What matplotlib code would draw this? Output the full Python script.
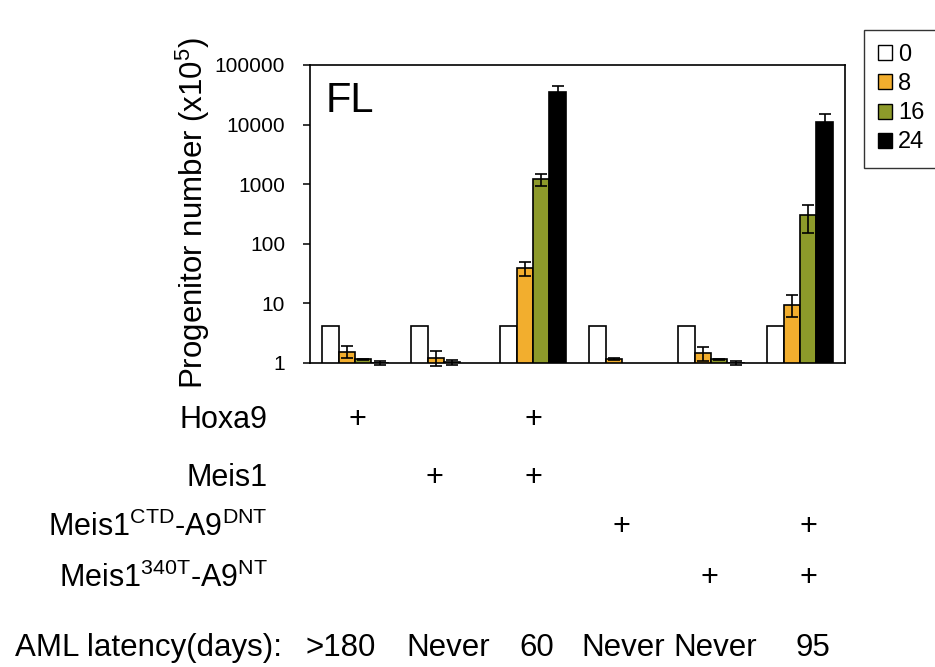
import numpy as np
import matplotlib
matplotlib.use('Agg')
import matplotlib.pyplot as plt
from matplotlib.patches import Patch
from matplotlib.transforms import blended_transform_factory, offset_copy

plt.rcParams['font.family'] = ['Liberation Sans', 'DejaVu Sans']
plt.rcParams['mathtext.fontset'] = 'custom'
plt.rcParams['mathtext.rm'] = 'Liberation Sans'
plt.rcParams['mathtext.it'] = 'Liberation Sans'

# data (progenitor number, x10^5)
days = ['0', '8', '16', '24']
colours = ['white', '#f2ae2e', '#8d9a2a', 'black']

v0 = [4.1, 4.1, 4.1, 4.1, 4.1, 4.1]
v8 = [1.55, 1.2, 40, 1.15, 1.5, 9.5]
v16 = [1.15, 1.02, 1200, np.nan, 1.15, 310]
v24 = [1.0, np.nan, 35000, np.nan, 1.0, 11000]

# error bar limits (lower, upper)
lo8 = [1.2, 0.9, 29, 1.12, 1.1, 6.0]
hi8 = [1.95, 1.6, 50, 1.2, 1.85, 14]
lo16 = [1.12, 0.92, 920, np.nan, 1.12, 150]
hi16 = [1.18, 1.12, 1500, np.nan, 1.18, 440]
lo24 = [0.93, np.nan, 28000, np.nan, 0.93, 8000]
hi24 = [1.08, np.nan, 45000, np.nan, 1.08, 15000]

rows = ['Hoxa9', 'Meis1', r'Meis1$^{\mathrm{CTD}}$-A9$^{\mathrm{DNT}}$',
        r'Meis1$^{\mathrm{340T}}$-A9$^{\mathrm{NT}}$']
plus = [[1, 0, 1, 0, 0, 0],
        [0, 1, 1, 0, 0, 0],
        [0, 0, 0, 1, 0, 1],
        [0, 0, 0, 0, 1, 1]]
latency = ['>180', 'Never', '60', 'Never', 'Never', '95']

fig = plt.figure(figsize=(9.35, 6.67), dpi=100)
ax = fig.add_axes([310/935, (667-363)/667, 535/935, 298/667])

x = np.arange(6)
w = 0.185
vals = [v0, v8, v16, v24]
los = [None, lo8, lo16, lo24]
his = [None, hi8, hi16, hi24]
for i in range(4):
    xs = x + (i - 1.5) * w
    v = np.array(vals[i], dtype=float)
    ax.bar(xs, v, w, color=colours[i], edgecolor='black', linewidth=1.2)
    if los[i] is not None:
        err = np.array([v - np.array(los[i]), np.array(his[i]) - v])
        eb = ax.errorbar(xs, v, yerr=err, fmt='none', ecolor='black',
                         elinewidth=1.2, capsize=4.5, capthick=1.2)
        for art in eb.lines[1] + eb.lines[2]:
            art.set_clip_on(False)

ax.set_yscale('log')
ax.set_ylim(1, 100000)
ax.set_xlim(-0.506, 5.506)
ax.set_yticks([1, 10, 100, 1000, 10000, 100000])
ax.set_yticklabels(['1', '10', '100', '1000', '10000', '100000'])
ax.minorticks_off()
ax.set_xticks([])
ax.tick_params(axis='y', labelsize=15, length=5, width=1.1, pad=13)
for s in ax.spines.values():
    s.set_linewidth(1.2)
ax.set_ylabel(r'Progenitor number (x10$^5$)', fontsize=22.5)
ax.yaxis.set_label_coords(-0.183, 0.505)
ax.text(0.03, 0.945, 'FL', transform=ax.transAxes, fontsize=30,
        ha='left', va='top')

handles = [Patch(facecolor=c, edgecolor='black', linewidth=1.0) for c in colours]
fig.legend(handles, days, loc='upper left', bbox_to_anchor=(864/935, (667-30)/667),
           fontsize=17, frameon=True, fancybox=False, edgecolor='black',
           handlelength=0.6, handleheight=0.6, handletextpad=0.25,
           labelspacing=0.3, borderpad=0.6, borderaxespad=0)

# table of constructs under the chart
tr = blended_transform_factory(ax.transData, fig.transFigure)
plus_shift = [2, -10, 0, -1, -2, 8]     # px, as typeset in the original
lat_shift = [-14, 4, 4, 1, 4, 13]
row_y = [420, 478, 527, 578]
for r, name in enumerate(rows):
    yy = 1 - row_y[r] / 667
    fig.text(268/935, yy, name, fontsize=22, ha='right', va='center')
    for g in range(6):
        if plus[r][g]:
            t = offset_copy(tr, fig=fig, x=plus_shift[g], y=0, units='dots')
            ax.text(x[g], yy, '+', transform=t, fontsize=22,
                    ha='center', va='center', clip_on=False)

ly = 1 - 648 / 667
fig.text(15/935, ly, 'AML latency(days):', fontsize=22.5, ha='left', va='center')
for g in range(6):
    t = offset_copy(tr, fig=fig, x=lat_shift[g], y=0, units='dots')
    ax.text(x[g], ly, latency[g], transform=t, fontsize=22.5,
            ha='center', va='center', clip_on=False)

fig.savefig('out.png', dpi=100)
